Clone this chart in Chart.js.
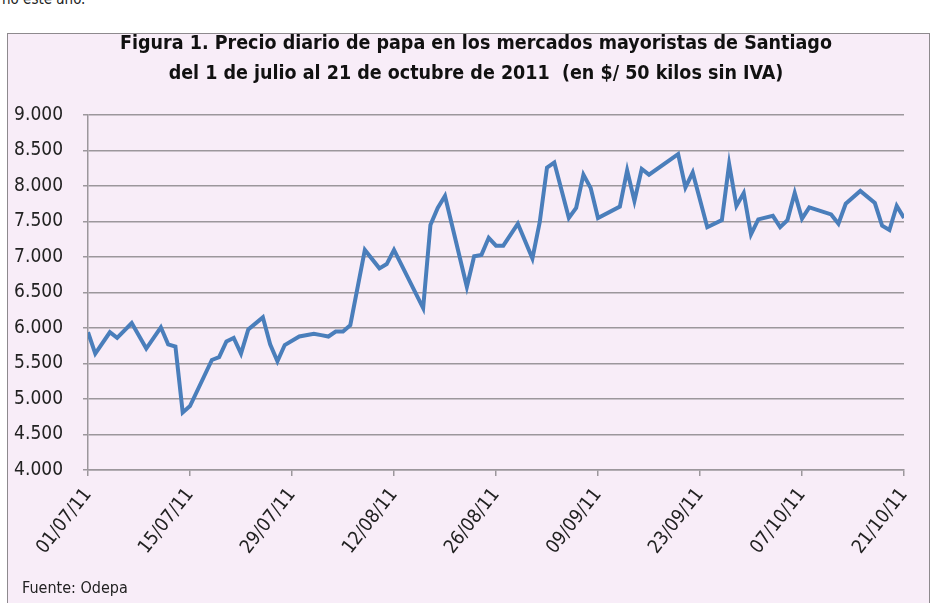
<!DOCTYPE html>
<html lang="es">
<head>
<meta charset="utf-8">
<title>Precio diario de papa</title>
<script src="https://cdn.jsdelivr.net/npm/chart.js@4.4.1/dist/chart.umd.min.js"></script>
<style>
  html, body { margin: 0; padding: 0; background: #fff; }
  body { width: 934px; height: 603px; position: relative; overflow: hidden;
         font-family: "DejaVu Sans Condensed", "DejaVu Sans", sans-serif; }
  #cuadro { position: absolute; left: 7px; top: 33px; width: 921px; height: 600px;
            background: #f8edf8; border: 1px solid #8e8a8e; }
  #grafico { position: absolute; left: 9px; top: 0; }
  #arriba { position: absolute; left: 2px; top: -10px; font-size: 15px; color: #222; }
  #fuente { position: absolute; left: 22px; top: 578px; font-size: 16px; color: #222; }
</style>
</head>
<body>
<div id="arriba">no este año.</div>
<div id="cuadro"></div>
<canvas id="grafico" width="934" height="603"></canvas>
<div id="fuente">Fuente: Odepa</div>
<script>
// datos (precio $/50 kg)
const fechas = [
  '01/07/11', '02/07/11', '04/07/11', '05/07/11', '07/07/11', '09/07/11', '11/07/11', '12/07/11',
  '13/07/11', '14/07/11', '15/07/11', '18/07/11', '19/07/11', '20/07/11', '21/07/11', '22/07/11',
  '23/07/11', '25/07/11', '26/07/11', '27/07/11', '28/07/11', '30/07/11', '01/08/11', '02/08/11',
  '03/08/11', '04/08/11', '05/08/11', '06/08/11', '08/08/11', '10/08/11', '11/08/11', '12/08/11',
  '16/08/11', '17/08/11', '18/08/11', '19/08/11', '22/08/11', '23/08/11', '24/08/11', '25/08/11',
  '26/08/11', '27/08/11', '29/08/11', '31/08/11', '01/09/11', '02/09/11', '03/09/11', '05/09/11',
  '06/09/11', '07/09/11', '08/09/11', '09/09/11', '12/09/11', '13/09/11', '14/09/11', '15/09/11',
  '16/09/11', '20/09/11', '21/09/11', '22/09/11', '24/09/11', '26/09/11', '27/09/11', '28/09/11',
  '29/09/11', '30/09/11', '01/10/11', '03/10/11', '04/10/11', '05/10/11', '06/10/11', '07/10/11',
  '08/10/11', '11/10/11', '12/10/11', '13/10/11', '15/10/11', '17/10/11', '18/10/11', '19/10/11',
  '20/10/11', '21/10/11'
];
const precios = [
  5940, 5640, 5940, 5860, 6070, 5710, 6010, 5770,
  5740, 4810, 4900, 5550, 5590, 5810, 5860, 5640,
  5980, 6150, 5770, 5530, 5760, 5880, 5920, 5900,
  5880, 5950, 5950, 6040, 7100, 6840, 6900, 7100,
  6280, 7450, 7690, 7860, 6580, 7010, 7030, 7270,
  7160, 7160, 7470, 6980, 7490, 8260, 8330, 7550,
  7690, 8160, 7970, 7550, 7710, 8220, 7790, 8240,
  8160, 8450, 7980, 8190, 7420, 7520, 8310, 7720,
  7900, 7320, 7530, 7580, 7420, 7520, 7900, 7540,
  7700, 7600, 7470, 7750, 7930, 7760, 7440, 7380,
  7720, 7550
];
const marcasEje = ['01/07/11', '15/07/11', '29/07/11', '12/08/11', '26/08/11',
                   '09/09/11', '23/09/11', '07/10/11', '21/10/11'];
const titulo = [
  'Figura 1. Precio diario de papa en los mercados mayoristas de Santiago',
  'del 1 de julio al 21 de octubre de 2011  (en $/ 50 kilos sin IVA)'
];

// días contados desde el 1 de julio
function diaDesdeInicio(f) {
  const [d, m, a] = f.split('/').map(Number);
  return Math.round((Date.UTC(2000 + a, m - 1, d) - Date.UTC(2011, 6, 1)) / 86400000);
}

const puntos = precios.map((p, i) => ({ x: diaDesdeInicio(fechas[i]), y: p }));
const fuente = '"DejaVu Sans Condensed", "DejaVu Sans", sans-serif';
const gris = '#9c979c';

Chart.defaults.font.family = fuente;
Chart.defaults.color = '#222';

new Chart(document.getElementById('grafico'), {
  type: 'line',
  data: {
    datasets: [{
      data: puntos,
      borderColor: '#4a7ebb',
      borderWidth: 4,
      pointRadius: 0,
      tension: 0,
      fill: false
    }]
  },
  options: {
    responsive: false,
    animation: false,
    devicePixelRatio: 1,
    layout: { padding: 0 },
    plugins: {
      legend: { display: false },
      tooltip: { enabled: false },
      title: {
        display: true,
        text: titulo,
        color: '#111',
        font: { size: 19.5, weight: 'bold', lineHeight: '30px' },
        padding: { top: 29, bottom: 26 }
      }
    },
    scales: {
      x: {
        type: 'linear',
        min: 0,
        max: 112,
        afterBuildTicks: function (scale) {
          scale.ticks = marcasEje.map(f => ({ value: diaDesdeInicio(f) }));
        },
        afterFit: function (scale) {
          scale.height = 133;
          scale.paddingRight = 39;
        },
        grid: { drawOnChartArea: false, drawTicks: true, tickLength: 6, color: gris, lineWidth: 1.5 },
        border: { color: gris, width: 1.5 },
        ticks: {
          autoSkip: false,
          minRotation: 52,
          maxRotation: 52,
          padding: 8,
          font: { size: 19 },
          callback: function (value, index) {
            return marcasEje[index];
          }
        }
      },
      y: {
        min: 4000,
        max: 9000,
        afterFit: function (scale) {
          scale.width = 79;
        },
        grid: { color: gris, lineWidth: 1.5, tickLength: 5 },
        border: { color: gris, width: 1.5 },
        ticks: {
          stepSize: 500,
          padding: 20,
          font: { size: 19 },
          callback: function (value) {
            return (value / 1000).toFixed(3);
          }
        }
      }
    }
  }
});
</script>
</body>
</html>
